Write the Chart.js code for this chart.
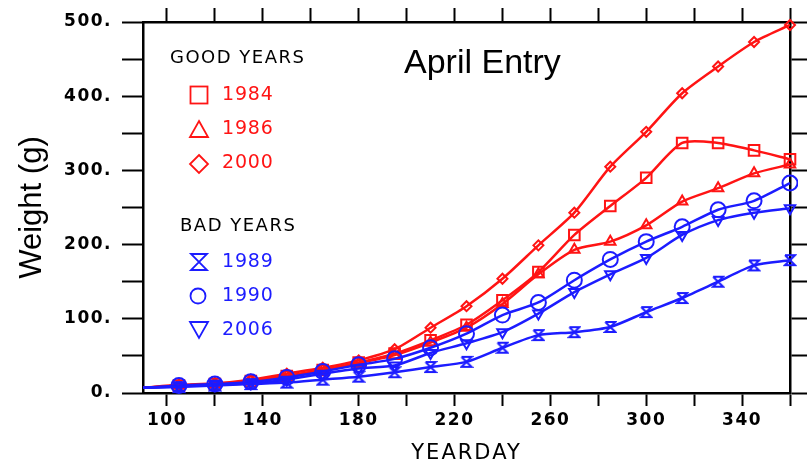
<!DOCTYPE html>
<html><head><meta charset="utf-8">
<script src="https://cdn.jsdelivr.net/npm/chart.js@4/dist/chart.umd.min.js"></script>
<style>html,body{margin:0;padding:0;background:#fff}#wrap{width:808px;height:464px}</style>
</head><body><div id="wrap"><canvas id="c" width="808" height="464"></canvas></div>
<script>
// ---- data ----
const days   = [90,105,120,135,150,165,180,195,210,225,240,255,270,285,300,315,330,345,360];
const w1984  = [7,10,12,16,23,31,41,53,71,92,125,163,213,252,290,337,337,327,315];
const w1986  = [7,10,12,16,23,31,40,51,68,88,120,160,193,204,226,258,276,296,308];
const w2000  = [7,11,13,18,26,34,44,59,88,117,154,199,243,305,352,404,440,473,496];
const w1989  = [7,8,10,12,14,18,22,28,35,42,61,78,82,89,109,128,150,172,179];
const w1990  = [7,10,12,15,21,29,38,46,61,80,105,122,152,180,204,224,247,259,283];
const w2006  = [7,9,11,13,18,26,33,37,54,67,82,107,136,160,182,213,233,243,249];
const xTickValues = [100,120,140,160,180,200,220,240,260,280,300,320,340,360];
const xTickLabels = [100,140,180,220,260,300,340];
const yTickValues = [0,50,100,150,200,250,300,350,400,450,500];
const yTickLabels = [0,100,200,300,400,500];
const goodYears = ['1984','1986','2000'];
const badYears  = ['1989','1990','2006'];

const RED = '#ff1414', BLUE = '#1c1cff';

function hourglass(color){
  const c = document.createElement('canvas'); c.width = 14; c.height = 14;
  const g = c.getContext('2d'); g.strokeStyle = color; g.lineWidth = 2;
  g.beginPath(); g.moveTo(2,2); g.lineTo(12,2); g.lineTo(2,12); g.lineTo(12,12); g.lineTo(2,2); g.stroke();
  return c;
}
const hg = hourglass(BLUE);

const pts = (arr) => arr.map((v,i)=>({x:days[i], y:v}));
function ds(label, arr, color, style, r, rot){
  return {label, data: pts(arr), borderColor: color, borderWidth: 2.5, tension: 0.25,
    pointStyle: style, pointRotation: rot||0, pointBorderColor: color, pointBackgroundColor: 'rgba(0,0,0,0)',
    pointBorderWidth: 2, pointRadius: (c)=> c.dataIndex===0 ? 0 : r, clip: 8};
}

const noGrid = (len) => ({drawOnChartArea:false, drawTicks:true, tickLength:len, tickWidth:2, tickColor:'#000'});
const border = {display:true, color:'#000', width:2.5};

function patchTitle(s, spacing){
  if (s._patchedTitle) return;
  const orig = s.drawTitle;
  s.drawTitle = function(){ const c=this.ctx; const o=c.letterSpacing; c.letterSpacing=spacing; orig.call(this); c.letterSpacing=o; };
  s._patchedTitle = true;
}

const axisText = {
  id:'axisText',
  beforeDraw(chart){ chart.ctx.letterSpacing = '1.5px'; },
  beforeDatasetsDraw(chart){ chart.ctx.letterSpacing = '0px'; },
  afterDraw(chart){
    const ctx = chart.ctx; ctx.save();
    ctx.textBaseline = 'middle'; ctx.textAlign = 'left';
    ctx.letterSpacing='0px';
    ctx.fillStyle = '#000'; ctx.font = '34px "Liberation Sans", Arial, sans-serif';
    ctx.fillText('April Entry', 404, 64);
    ctx.letterSpacing='1.5px';
    ctx.font = '18px "DejaVu Sans", sans-serif';
    ctx.fillText('GOOD YEARS', 170, 58);
    ctx.fillText('BAD YEARS', 180, 226);
    ctx.letterSpacing='0.8px';
    ctx.font = '19px "DejaVu Sans", sans-serif';
    const gy = [95,129,163], by = [262,296,330];
    goodYears.forEach((t,i)=>{ ctx.fillStyle = RED; ctx.fillText(t, 222, gy[i]); });
    badYears.forEach((t,i)=>{ ctx.fillStyle = BLUE; ctx.fillText(t, 222, by[i]); });
    ctx.lineWidth = 1.8;
    ctx.strokeStyle = RED; ctx.strokeRect(190.5, 86.5, 17, 17);
    ctx.beginPath(); ctx.moveTo(199,121); ctx.lineTo(208,137); ctx.lineTo(190,137); ctx.closePath(); ctx.stroke();
    ctx.beginPath(); ctx.moveTo(199,155); ctx.lineTo(208,164); ctx.lineTo(199,173); ctx.lineTo(190,164); ctx.closePath(); ctx.stroke();
    ctx.strokeStyle = BLUE;
    ctx.beginPath(); ctx.moveTo(191,254); ctx.lineTo(207,254); ctx.lineTo(191,270); ctx.lineTo(207,270); ctx.closePath(); ctx.stroke();
    ctx.beginPath(); ctx.arc(198,296,7.5,0,Math.PI*2); ctx.stroke();
    ctx.beginPath(); ctx.moveTo(190,322); ctx.lineTo(208,322); ctx.lineTo(199,338); ctx.closePath(); ctx.stroke();
    ctx.restore();
  }
};

const tickFont = {family:'"DejaVu Sans", sans-serif', size:17, weight:'bold'};

new Chart(document.getElementById('c'), {
  type: 'line',
  data: { datasets: [
    ds('1989', w1989, BLUE, hg, 6),
    ds('2006', w2006, BLUE, 'triangle', 6, 180),
    ds('1990', w1990, BLUE, 'circle', 7.5),
    ds('1986', w1986, RED, 'triangle', 6),
    ds('1984', w1984, RED, 'rect', 7.5),
    ds('2000', w2000, RED, 'rectRot', 5),
  ]},
  options: {
    responsive:false, animation:false, devicePixelRatio:1,
    layout:{padding:0},
    plugins:{legend:{display:false}, tooltip:{enabled:false}},
    scales:{
      x:{type:'linear', position:'bottom', min:90, max:360,
        afterBuildTicks:(s)=>{ s.ticks = xTickValues.map(v=>({value:v})); },
        afterFit:(s)=>{ s.height = 71; patchTitle(s,'2px'); },
        grid: noGrid(13), border,
        ticks:{autoSkip:false, maxRotation:0, padding:4, color:'#000', font:tickFont,
          callback:(v)=> xTickLabels.includes(v) ? String(v) : ''},
        title:{display:true, text:'YEARDAY', color:'#000', padding:{top:1,bottom:0},
          font:{family:'"DejaVu Sans", sans-serif', size:21, lineHeight:1}}},
      xTop:{type:'linear', position:'top', min:90, max:360,
        afterBuildTicks:(s)=>{ s.ticks = xTickValues.map(v=>({value:v})); },
        afterFit:(s)=>{ s.height = 22; },
        grid: noGrid(14), border, ticks:{display:false}},
      y:{type:'linear', position:'left', min:0, max:500,
        afterBuildTicks:(s)=>{ s.ticks = yTickValues.map(v=>({value:v})); },
        afterFit:(s)=>{ s.width = 143; patchTitle(s,'0px'); },
        grid: noGrid(21), border,
        ticks:{autoSkip:false, padding:10, color:'#000', font:tickFont,
          callback:(v)=> yTickLabels.includes(v) ? v + '.' : ''},
        title:{display:true, text:'Weight (g)', color:'#000', padding:{top:14,bottom:0},
          font:{family:'"Liberation Sans", Arial, sans-serif', size:31}}},
      yRight:{type:'linear', position:'right', min:0, max:500,
        afterBuildTicks:(s)=>{ s.ticks = yTickValues.map(v=>({value:v})); },
        afterFit:(s)=>{ s.width = 18; },
        grid: noGrid(17), border, ticks:{display:false}}
    }
  },
  plugins:[axisText]
});
</script></body></html>
